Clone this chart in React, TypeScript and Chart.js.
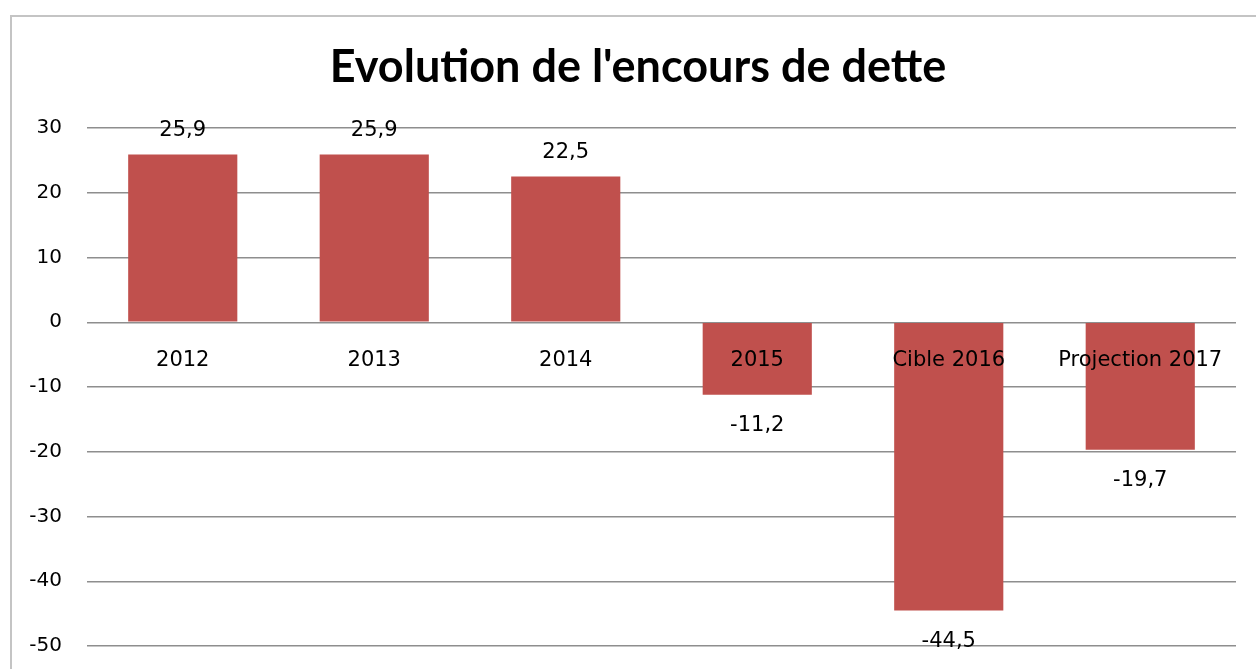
import React, { useEffect, useRef } from "react";
import { Chart, registerables } from "chart.js";

Chart.register(...registerables);

const TITLE = "Evolution de l'encours de dette";
const categories = ["2012", "2013", "2014", "2015", "Cible 2016", "Projection 2017"];
const values = [25.9, 25.9, 22.5, -11.2, -44.5, -19.7];
const yTicks = [30, 20, 10, 0, -10, -20, -30, -40, -50];

const BAR_COLOR = "#C0504D";
const GRID_COLOR = "#8e8e8e";
const LABEL_FONT = "DejaVu Sans";

const fmt = (v: number) => v.toFixed(1).replace(".", ",");

const labelsPlugin = {
  id: "labelsPlugin",
  afterDatasetsDraw(chart: any) {
    const ctx = chart.ctx;
    const meta = chart.getDatasetMeta(0);
    const yScale = chart.scales.y;
    const xScale = chart.scales.x;
    const zeroY = yScale.getPixelForValue(0);
    ctx.save();
    // title
    ctx.font = `bold 45px "Lato"`;
    ctx.fillStyle = "#000";
    ctx.textAlign = "center";
    ctx.textBaseline = "middle";
    ctx.fillText(TITLE, 638, 67);
    // category labels at the zero line
    ctx.font = `21px "${LABEL_FONT}"`;
    categories.forEach((c, i) => {
      ctx.fillText(c, xScale.getPixelForValue(i), zeroY + 38);
    });
    // data labels
    meta.data.forEach((bar: any, i: number) => {
      const v = values[i];
      const y = v >= 0 ? bar.y - 24 : bar.y + 31;
      ctx.fillText(fmt(v), bar.x, y);
    });
    ctx.restore();
  },
};

export default function App() {
  const ref = useRef<HTMLCanvasElement>(null);
  useEffect(() => {
    if (!ref.current) return;
    const chart = new Chart(ref.current, {
      type: "bar",
      data: {
        labels: categories,
        datasets: [
          {
            data: values,
            backgroundColor: BAR_COLOR,
            barPercentage: 0.57,
            categoryPercentage: 1,
          },
        ],
      },
      options: {
        animation: false,
        responsive: false,
        maintainAspectRatio: false,
        layout: { padding: { left: 0, right: 20, top: 128, bottom: 23 } },
        plugins: {
          legend: { display: false },
          tooltip: { enabled: false },
          title: { display: false },
        },
        scales: {
          x: {
            display: false,
          },
          y: {
            min: -50,
            max: 30,
            afterBuildTicks: (s: any) => {
              s.ticks = yTicks.map((v) => ({ value: v }));
            },
            afterFit: (s: any) => {
              s.width = 87;
              s.paddingTop = 0;
              s.paddingBottom = 0;
            },
            grid: { color: GRID_COLOR, lineWidth: 1.5, drawTicks: false },
            border: { display: false },
            ticks: {
              color: "#000",
              font: { family: LABEL_FONT, size: 20 },
              padding: 25,
            },
          },
        } as any,
      },
      plugins: [labelsPlugin],
    });
    return () => chart.destroy();
  }, []);

  return (
    <div
      style={{
        position: "fixed",
        left: 0,
        top: 0,
        width: 1256,
        height: 669,
        overflow: "hidden",
        background: "#fff",
      }}
    >
      <div
        style={{
          position: "absolute",
          left: 10,
          top: 15,
          width: 1400,
          height: 800,
          border: "2px solid #c4c4c4",
          boxSizing: "border-box",
        }}
      />
      <canvas
        ref={ref}
        width={1256}
        height={669}
        style={{ position: "absolute", left: 0, top: 0 }}
      />
    </div>
  );
}
